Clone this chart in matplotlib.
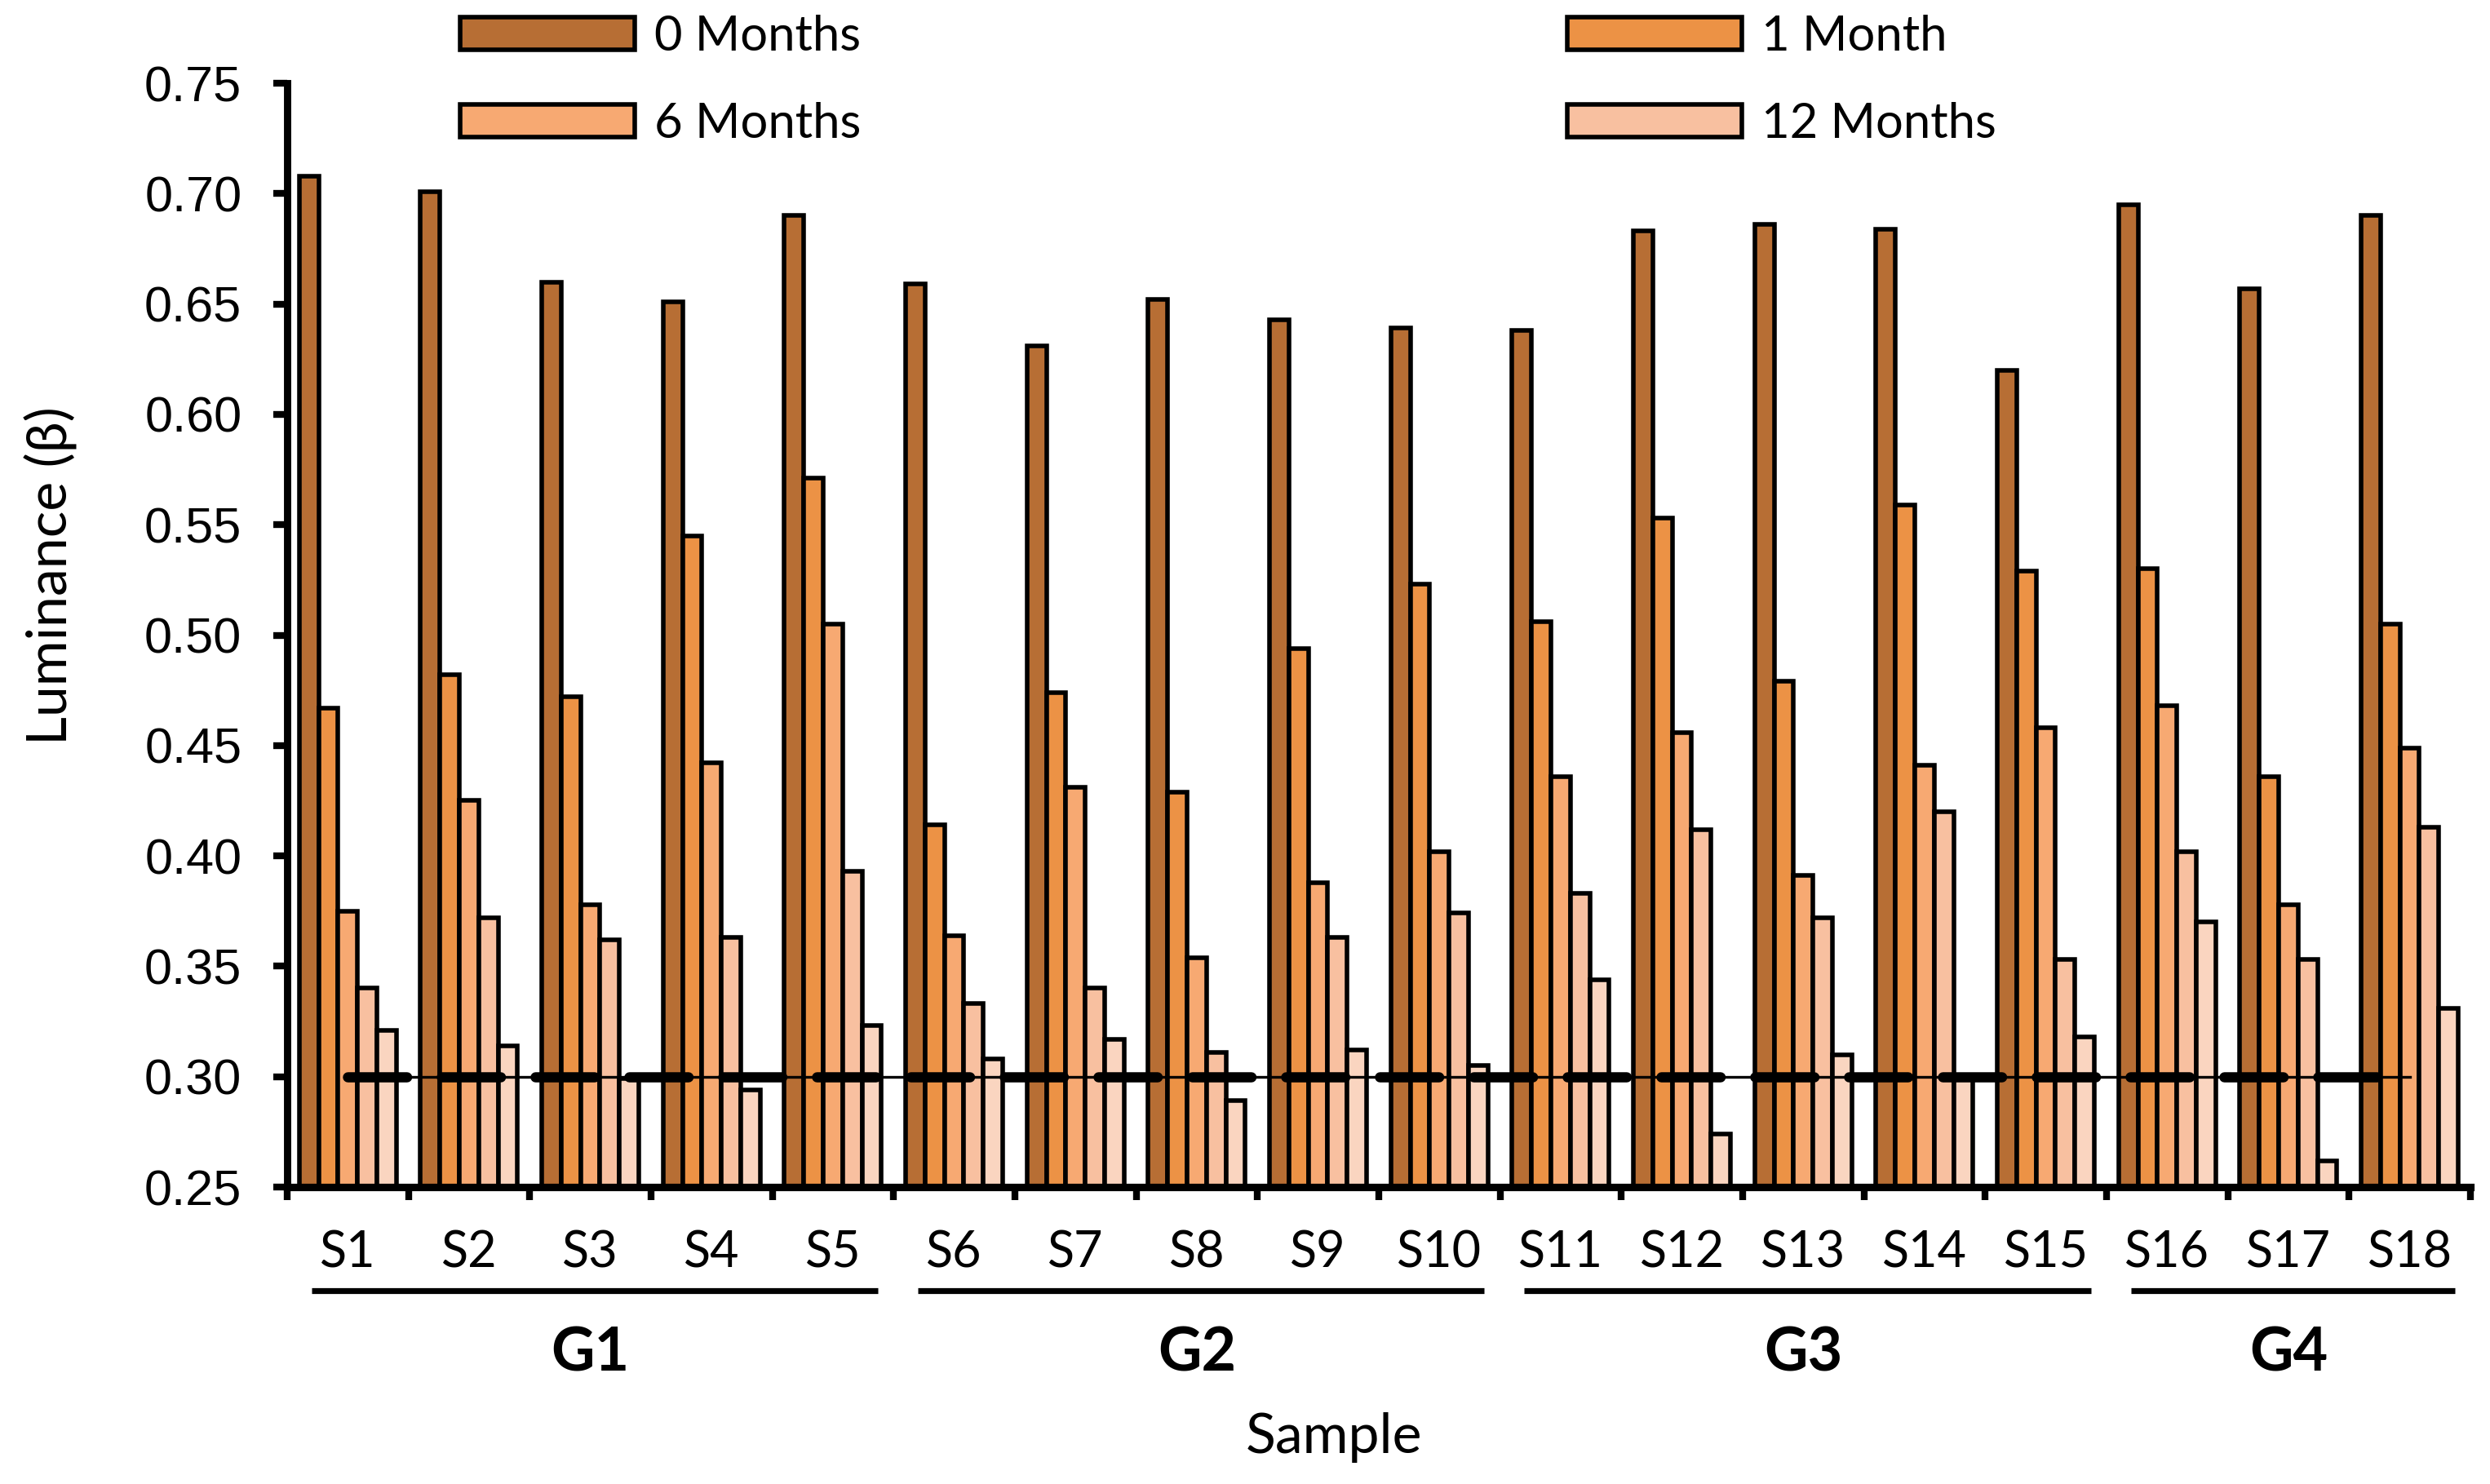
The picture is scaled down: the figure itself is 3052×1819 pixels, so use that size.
import numpy as np
import matplotlib.pyplot as plt

# data
samples = ['S%d' % i for i in range(1, 19)]
groups = ['G1', 'G2', 'G3', 'G4']
group_sizes = [5, 5, 5, 3]

m0 = [0.708, 0.701, 0.660, 0.651, 0.690, 0.659, 0.631, 0.652, 0.643,
      0.639, 0.638, 0.683, 0.686, 0.684, 0.620, 0.695, 0.657, 0.690]
m1 = [0.467, 0.482, 0.472, 0.545, 0.571, 0.414, 0.474, 0.429, 0.494,
      0.523, 0.506, 0.553, 0.479, 0.559, 0.529, 0.530, 0.436, 0.505]
m6 = [0.375, 0.425, 0.378, 0.442, 0.505, 0.364, 0.431, 0.354, 0.388,
      0.402, 0.436, 0.456, 0.391, 0.441, 0.458, 0.468, 0.378, 0.449]
m12 = [0.340, 0.372, 0.362, 0.363, 0.393, 0.333, 0.340, 0.311, 0.363,
       0.374, 0.383, 0.412, 0.372, 0.420, 0.353, 0.402, 0.353, 0.413]
# fifth series shown in the chart but not named in its legend
m_last = [0.321, 0.314, 0.299, 0.294, 0.323, 0.308, 0.317, 0.289, 0.312,
          0.305, 0.344, 0.274, 0.310, 0.299, 0.318, 0.370, 0.262, 0.331]
threshold = 0.30

series = [m0, m1, m6, m12, m_last]
labels = ['0 Months', '1 Month', '6 Months', '12 Months', '_nolegend_']
colors = ['#B76E34', '#EC9245', '#F7A972', '#F8C0A0', '#FAD5C0']

plt.rcParams['font.family'] = ['Lato', 'DejaVu Sans']

fig = plt.figure(figsize=(15.26, 9.095), dpi=200)
ax = fig.add_axes([0.1153, 0.2001, 0.9921 - 0.1153, 0.9439 - 0.2001])

n = len(samples)
x = np.arange(n) + 0.5
w = 0.16
handles = []
for k, vals in enumerate(series):
    b = ax.bar(x + (k - 2) * w, np.array(vals) - 0.25, w, bottom=0.25,
               color=colors[k], edgecolor='black', linewidth=2.0,
               label=labels[k], zorder=2)
    handles.append(b)

# threshold line: thin solid + thick round dashes
ax.plot([x[0], x[-1]], [threshold, threshold], color='black',
        linewidth=1.2, zorder=3)
ax.plot([x[0], x[-1]], [threshold, threshold], color='black',
        linewidth=4.5, dashes=(5.8, 3.4), dash_capstyle='round', zorder=4)

ax.set_xlim(0, n)
ax.set_ylim(0.25, 0.75)
ax.set_yticks(np.arange(0.25, 0.751, 0.05))
ax.set_yticklabels(['%.2f' % v for v in np.arange(0.25, 0.751, 0.05)],
                   family='Liberation Sans', fontsize=22)
ax.set_xticks(np.arange(0, n + 1))
ax.set_xticklabels([])
ax.set_xticks(x, minor=True)
ax.set_xticklabels(samples, minor=True, fontsize=22)
ax.tick_params(axis='x', which='major', direction='out', length=5.8, width=3)
ax.tick_params(axis='x', which='minor', length=0, pad=19)
ax.tick_params(axis='y', direction='out', length=6, width=3, pad=14)

for s in ['top', 'right']:
    ax.spines[s].set_visible(False)
ax.spines['left'].set_linewidth(3.2)
ax.spines['bottom'].set_linewidth(3.3)
ax.spines['left'].set_zorder(5)
ax.spines['bottom'].set_zorder(5)

# group underlines and labels
trans = ax.get_xaxis_transform()
start = 0
for g, size in zip(groups, group_sizes):
    x0 = start + 0.2
    x1 = start + size - 0.13
    ax.plot([x0, x1], [-0.094, -0.094], color='black', linewidth=2.6,
            transform=trans, clip_on=False, solid_capstyle='butt')
    ax.text(start + size / 2, -0.151, g, transform=trans, ha='center',
            va='center', fontsize=26.5, fontweight='bold')
    start += size

fig.text(0.5357, 0.0313, 'Sample', ha='center', va='center', fontsize=24.5)
fig.text(0.0206, 0.612, 'Luminance (β)', ha='center', va='center',
         rotation=90, fontsize=24.5)

leg_h = [handles[0], handles[2], handles[1], handles[3]]
leg_l = ['0 Months', '6 Months', '1 Month', '12 Months']
fig.legend(leg_h, leg_l, ncol=2, loc='upper left',
           bbox_to_anchor=(564 / 3052, 1 - 18 / 1819), frameon=False,
           fontsize=21.5, handlelength=3.58, handleheight=0.65,
           handletextpad=0.4, columnspacing=14.5, labelspacing=0.88,
           borderpad=0, borderaxespad=0)

fig.savefig('out.png', dpi=200)
